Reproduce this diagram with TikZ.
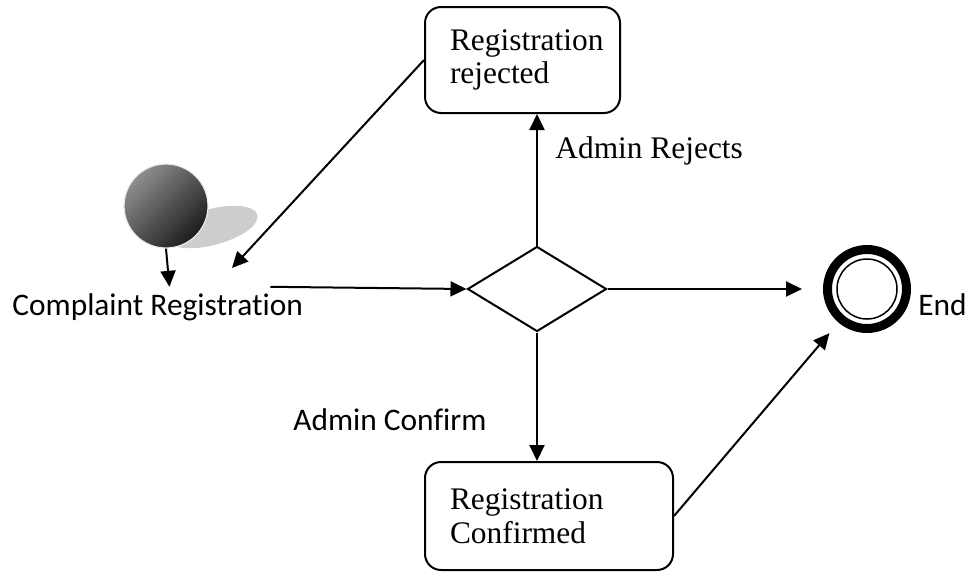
\documentclass[tikz,border=0pt]{standalone}
\usepackage{fontspec}
\setmainfont{Liberation Serif}
\newfontfamily\uisans[Ligatures=NoCommon]{Carlito}
\usepackage{tikz}
\usetikzlibrary{shapes.geometric, arrows.meta, positioning}
\definecolor{balltop}{HTML}{8E8E8E}
\definecolor{ballbottom}{HTML}{1C1C1C}
\definecolor{shadowgray}{HTML}{CDCDCD}

\begin{document}
\begin{tikzpicture}[x=0.5pt, y=-0.5pt,
        state/.style 2 args={draw, line width=1pt, rounded corners=8pt, align=left,
                    inner xsep=12.5pt, inner ysep=0pt, text width=#1, minimum height=#2,
                    font=\fontsize{15.7}{16.8}\selectfont},
        decision/.style={diamond, draw, line width=1pt, minimum width=69.5pt,
                    minimum height=42.5pt, inner sep=0pt},
        startball/.style={circle, minimum size=42pt, inner sep=0pt, draw=black!8,
                    line width=0.6pt, top color=balltop, bottom color=ballbottom, shading angle=45},
        finalring/.style={circle, draw, line width=4.5pt, minimum size=39.5pt, inner sep=0pt},
        seriflbl/.style={inner sep=0pt, font=\fontsize{15.7}{19}\selectfont},
        sanslbl/.style={inner sep=0pt, font=\uisans\fontsize{15.7}{19}\selectfont},
        arr/.style={-{Triangle[length=8pt,width=7.5pt]}, line width=1pt}
    ]
        \useasboundingbox (0,0) rectangle (969,573);

        % initial state with its shadow
        \fill[shadowgray, rotate around={15:(212,227)}] (212,227) ellipse [x radius=47, y radius=18];
        \node[startball] (start) at (166,206) {};
        \node[sanslbl, anchor=base west] (reg) at (12,315) {Complaint Registration};

        \node[decision] (dec) at (537,289) {};
        \node[state={72.5pt}{53pt}] (rej)  at (522.5,60) {Registration\\rejected};
        \node[state={99pt}{54pt}]   (conf) at (549,516) {Registration\\Confirmed};

        % final state
        \node[finalring] (fin) at (867,289) {};
        \draw[line width=0.75pt] (fin.center) circle [radius=15pt];
        \node[sanslbl, anchor=base west] (endlbl) at (918,315) {End};

        \node[seriflbl, anchor=base west] (rejlbl)  at (555,158) {Admin Rejects};
        \node[sanslbl, anchor=base west]  (conflbl) at (293,430) {Admin Confirm};

        \coordinate (back) at (232,268);

        \draw[arr, shorten >=3pt] (start.south) -- ([xshift=2pt]start.south |- reg.north);
        \draw[arr] ([xshift=-16.5pt, yshift=3pt]reg.north east) -- (dec.west);
        \draw[arr] (dec.north) -- (dec.north |- rej.south);
        \draw[arr] (dec.south) -- (dec.south |- conf.north);
        \draw[arr] (rej.west) -- (back);
        \draw[arr, shorten >=10.5pt] (dec.east) -- (fin.west);
        \draw[arr, shorten >=7pt] (conf.east) -- (fin);
    \end{tikzpicture}
\end{document}
